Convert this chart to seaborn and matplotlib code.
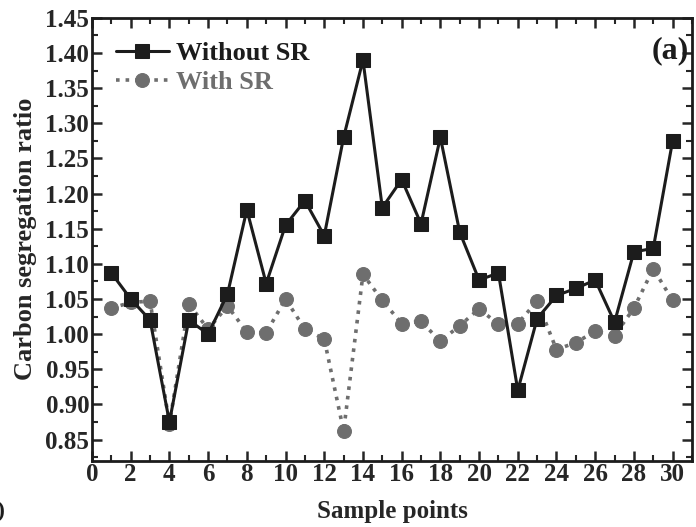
import numpy as np
import pandas as pd
import matplotlib
matplotlib.use("Agg")
import matplotlib.pyplot as plt
from matplotlib.ticker import MultipleLocator
import seaborn as sns

sample_points = list(range(1, 31))
without_sr = [1.087, 1.050, 1.020, 0.875, 1.020, 1.000, 1.057, 1.177, 1.072, 1.155,
              1.190, 1.140, 1.280, 1.390, 1.180, 1.220, 1.157, 1.280, 1.145, 1.077,
              1.087, 0.920, 1.022, 1.055, 1.065, 1.077, 1.017, 1.117, 1.122, 1.275]
with_sr = [1.037, 1.045, 1.047, 0.872, 1.043, 1.007, 1.040, 1.003, 1.002, 1.050,
           1.007, 0.993, 0.862, 1.085, 1.048, 1.015, 1.018, 0.990, 1.012, 1.036,
           1.014, 1.015, 1.047, 0.978, 0.988, 1.004, 0.998, 1.037, 1.093, 1.048]
series_names = ["Without SR", "With SR"]

sns.set_theme(style="ticks")
plt.rcParams['font.family'] = ['Liberation Serif', 'DejaVu Serif']
plt.rcParams['font.weight'] = 'bold'

fig = plt.figure(figsize=(6.96, 5.27), dpi=100)
ax = fig.add_axes([0.1322, 0.126, 0.862, 0.840])

df1 = pd.DataFrame({"x": sample_points, "y": without_sr})
df2 = pd.DataFrame({"x": sample_points, "y": with_sr})

black = "#1c1c1c"
grey = "#6e6e6e"
sns.lineplot(data=df2, x="x", y="y", ax=ax, color=grey, linestyle=":", linewidth=2.6,
             marker="o", markersize=10, markeredgecolor=grey, label=series_names[1])
sns.lineplot(data=df1, x="x", y="y", ax=ax, color=black, linestyle="-", linewidth=2.2,
             marker="s", markersize=9.5, markeredgecolor=black, label=series_names[0])

ax.set_xlim(0, 31)
ax.set_ylim(0.82, 1.45)
ax.xaxis.set_minor_locator(MultipleLocator(1))
ax.yaxis.set_minor_locator(MultipleLocator(0.025))
ax.set_xticks(range(0, 31, 2))
ax.set_xticklabels([str(v) for v in range(0, 31, 2)])
yt = np.round(np.arange(0.85, 1.4501, 0.05), 2)
ax.set_yticks(yt)
ax.set_yticklabels([f"{v:.2f}" for v in yt])
ax.tick_params(which="major", direction="in", length=7, width=1.8, labelsize=18,
               top=True, right=True, pad=2)
ax.tick_params(which="minor", direction="in", length=4, width=1.5, top=True, right=True)
for lab in ax.get_xticklabels() + ax.get_yticklabels():
    lab.set_fontweight("bold")
for s in ax.spines.values():
    s.set_linewidth(2)
    s.set_color(black)

ax.set_xlabel("Sample points", fontsize=18, fontweight="bold", labelpad=10)
ax.set_ylabel("Carbon segregation ratio", fontsize=19, fontweight="bold", labelpad=6)

handles, labels = ax.get_legend_handles_labels()
order = [1, 0]
leg = ax.legend([handles[i] for i in order], [labels[i] for i in order],
                loc="upper left", bbox_to_anchor=(0.0, 1.0), frameon=False,
                prop={"size": 19, "weight": "bold"}, handlelength=2.0,
                handletextpad=0.3, labelspacing=0.2, borderaxespad=0.5)
for t, c in zip(leg.get_texts(), [black, grey]):
    t.set_color(c)

ax.text(0.995, 0.925, "(a)", transform=ax.transAxes, ha="right", va="center",
        fontsize=23, fontweight="bold", color=black)
fig.text(0.0, 0.03, ")", fontsize=17, fontweight="bold", ha="center", va="center", color=black)

fig.savefig("out.png", dpi=100)
